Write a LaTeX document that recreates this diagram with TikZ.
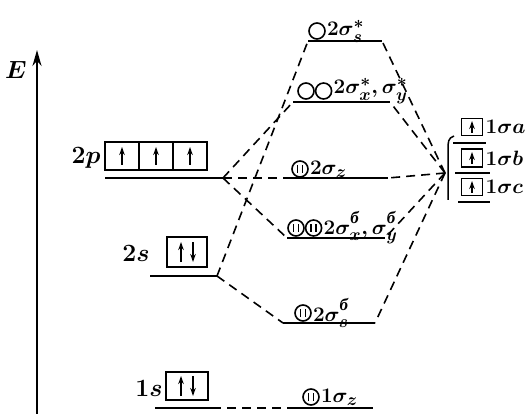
\documentclass[tikz,border=0pt]{standalone}
\usepackage{fontspec}
\usepackage{amsmath}
\newfontfamily\cyrfont{Liberation Serif}
\usetikzlibrary{arrows.meta, positioning, calc}
\DeclareMathSizes{22}{22}{17}{13}
\DeclareMathSizes{30}{30}{22}{16}
\newcommand{\bnd}{\text{\raisebox{3pt}{\cyrfont\bfseries\itshape б}}}

\begin{document}
\begin{tikzpicture}[x=1pt,y=-1pt,
    mo/.style={line width=2.4pt},
    corr/.style={line width=1.6pt, dash pattern=on 9pt off 6pt},
    cell/.style={draw, line width=1.5pt, outer sep=0pt, inner sep=0pt},
    elec/.style={line width=2pt, -{Stealth[length=8pt,width=5.5pt]}},
    orb/.style={draw, circle, line width=1.6pt, minimum size=16pt, inner sep=0pt},
    orbf/.style={orb, path picture={
        \draw[line width=1.8pt] ($(path picture bounding box.center)+(-2.5,4)$) -- ++(0,-8);
        \draw[line width=1.8pt] ($(path picture bounding box.center)+(2.5,4)$) -- ++(0,-8);}},
    molab/.style={font=\fontsize{22}{26}\selectfont\boldmath, inner sep=1pt},
    atlab/.style={font=\fontsize{30}{34}\selectfont\boldmath, inner sep=0pt}]
    \useasboundingbox (0,0) rectangle (530,414);

    % energy axis
    \coordinate (e0) at (37,414);
    \coordinate (e1) at (37,50);
    \draw[line width=2pt, -{Stealth[length=16pt,width=9pt]}] (e0) -- (e1);
    \node[atlab] (elab) at (16,70) {$E$};

    % atomic levels of the central atom
    \coordinate (p2L) at (105,178); \coordinate (p2R) at (223,178);
    \coordinate (s2L) at (150,276); \coordinate (s2R) at (217,276);
    \coordinate (s1L) at (155,408); \coordinate (s1R) at (212,408);
    \draw[mo] (p2L) -- (p2R);
    \draw[mo] (s2L) -- (s2R);
    \draw[mo] (s1L) -- (s1R);

    \node[cell, minimum width=34pt, minimum height=28pt] (p2a) at (122,156) {};
    \node[cell, minimum width=34pt, minimum height=28pt, right=0pt of p2a] (p2b) {};
    \node[cell, minimum width=34pt, minimum height=28pt, right=0pt of p2b] (p2c) {};
    \foreach \c in {p2a,p2b,p2c}
    \draw[elec] (\c.center) ++(0,9) -- ++(0,-18);
    \node[cell, minimum width=40pt, minimum height=30pt] (s2box) at (187,252) {};
    \node[cell, minimum width=42pt, minimum height=28pt] (s1box) at (187,386) {};
    \foreach \c in {s2box,s1box}{
    \draw[elec] (\c.center) ++(-6,10) -- ++(0,-20);
    \draw[elec] (\c.center) ++(6,-10) -- ++(0,20);}
    \node[atlab] (p2lab) at (86,158) {$2p$};
    \node[atlab] (s2lab) at (136,253) {$2s$};
    \node[atlab] (s1lab) at (149,388) {$1s$};

    % molecular orbitals
    \coordinate (sasL) at (308,41);  \coordinate (sasR) at (382,41);
    \coordinate (xaL) at (293,102);  \coordinate (xaR) at (390,102);
    \coordinate (zL) at (290,178);   \coordinate (zR) at (388,178);
    \coordinate (xbL) at (287,238);  \coordinate (xbR) at (385,238);
    \coordinate (sbL) at (283,323);  \coordinate (sbR) at (375,323);
    \coordinate (zsL) at (295,408);  \coordinate (zsR) at (373,408);
    \foreach \a/\b in {sasL/sasR,xaL/xaR,zL/zR,xbL/xbR,sbL/sbR,zsL/zsR}
    \draw[mo] (\a) -- (\b);

    \node[orb] (o1) at (317,31) {};
    \node[molab, right=0pt of o1] (l1) {$2\sigma_s^{*}$};
    \node[orb] (o2) at (306,91) {};
    \node[orb, right=0pt of o2] (o3) {};
    \node[molab, right=0pt of o3] (l2) {$2\sigma_x^{*},\sigma_y^{*}$};
    \node[orbf] (o4) at (300,169) {};
    \node[molab, right=0pt of o4] (l3) {$2\sigma_z$};
    \node[orbf] (o5) at (296,228) {};
    \node[orbf, right=0pt of o5] (o6) {};
    \node[molab, right=0pt of o6] (l4) {$2\sigma_x^{\bnd},\sigma_y^{\bnd}$};
    \node[orbf] (o7) at (303,313) {};
    \node[molab, right=0pt of o7] (l5) {$2\sigma_s^{\bnd}$};
    \node[orbf] (o8) at (311,397) {};
    \node[molab, right=0pt of o8] (l6) {$1\sigma_z$};

    % ligand group orbitals
    \coordinate (P) at (445,173);
    \coordinate (aL) at (453,143); \coordinate (aR) at (486,143);
    \coordinate (bL) at (455,173); \coordinate (bR) at (490,173);
    \coordinate (cL) at (458,202); \coordinate (cR) at (490,202);
    \foreach \a/\b in {aL/aR,bL/bR,cL/cR}
    \draw[mo] (\a) -- (\b);
    \node[cell, minimum width=21pt, minimum height=17pt] (la) at (472,127) {};
    \node[cell, minimum width=21pt, minimum height=18pt] (lb) at (472,158) {};
    \node[cell, minimum width=21pt, minimum height=17pt] (lc) at (472,187) {};
    \foreach \c in {la,lb,lc}
    \draw[elec] (\c.center) ++(0,6) -- ++(0,-12);
    \node[molab, right=2pt of la] (lla) {$1\sigma a$};
    \node[molab, right=2pt of lb] (llb) {$1\sigma b$};
    \node[molab, right=2pt of lc] (llc) {$1\sigma c$};
    \draw[line width=1.5pt] (454,136) .. controls (448,138) and (448,142) .. (448,150) -- (448,200);

    % correlation lines
    \foreach \m in {xaL,zL,xbL}
    \draw[corr] (p2R) -- (\m);
    \foreach \m in {sasL,sbL}
    \draw[corr] (s2R) -- (\m);
    \draw[corr] (s1R) -- (zsL);
    \foreach \m in {sasR,xaR,zR,xbR,sbR}
    \draw[corr] (P) -- (\m);
\end{tikzpicture}
\end{document}
